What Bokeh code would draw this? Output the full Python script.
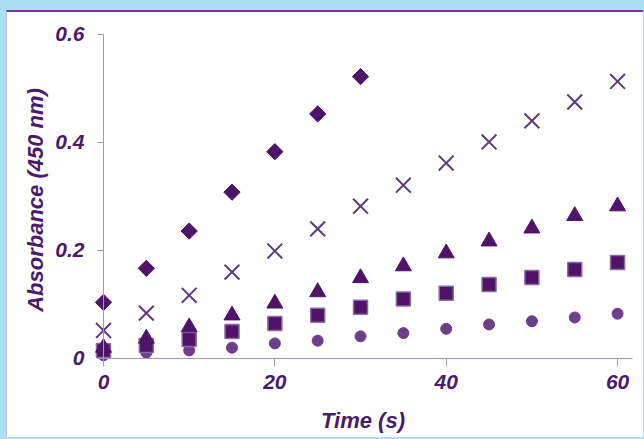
import numpy as np
from bokeh.plotting import figure
from bokeh.models import Range1d, FixedTicker, LinearAxis
from bokeh.layouts import column
from bokeh.embed import file_html
from bokeh.resources import INLINE

# ---- data ----
time_s = [0, 5, 10, 15, 20, 25, 30, 35, 40, 45, 50, 55, 60]
diamond_t = [0, 5, 10, 15, 20, 25, 30]
diamond_y = [0.104, 0.167, 0.236, 0.308, 0.383, 0.453, 0.522]
cross_y = [0.052, 0.084, 0.117, 0.160, 0.199, 0.240, 0.282, 0.321, 0.362, 0.401, 0.440, 0.475, 0.513]
triangle_y = [0.020, 0.037, 0.058, 0.080, 0.102, 0.123, 0.149, 0.171, 0.195, 0.217, 0.241, 0.264, 0.282]
square_y = [0.015, 0.024, 0.035, 0.050, 0.065, 0.080, 0.095, 0.110, 0.121, 0.137, 0.150, 0.165, 0.178]
circle_y = [0.006, 0.011, 0.015, 0.020, 0.028, 0.033, 0.041, 0.047, 0.055, 0.063, 0.069, 0.076, 0.083]
x_ticks = [0, 20, 40, 60]
y_ticks = [0, 0.2, 0.4, 0.6]
y_tick_labels = {0: "0", 0.2: "0.2", 0.4: "0.4", 0.6: "0.6"}
x_title = "Time (s)"
y_title = "Absorbance (450 nm)"

DARK = "#4f1468"
LIGHT = "#6c3f8b"
XCOL = "#5c3a80"
TEXT = "#4b1a6c"
AXIS = "#a09aa8"

p = figure(width=637, height=427, output_backend="svg", toolbar_location=None,
           x_range=Range1d(-1.984, 62.56), y_range=Range1d(-0.01667, 0.6037),
           min_border_left=79, min_border_right=5, min_border_top=20, min_border_bottom=72)
p.margin = (10, 0, 0, 6)
p.styles = {"border-top": "2px solid #7a3498", "border-left": "1px solid #c9bde6",
            "background-color": "white"}
p.background_fill_color = "white"
p.border_fill_color = "white"
p.outline_line_color = None
p.grid.visible = False

p.scatter(time_s, circle_y, marker="circle", size=11, fill_color=LIGHT, line_color=LIGHT)
p.scatter(time_s, square_y, marker="square", size=14, fill_color=DARK, line_color="#8a6aa3", line_width=1.5)
p.scatter(time_s, triangle_y, marker="triangle", size=16, fill_color=DARK, line_color=DARK)
p.scatter(time_s, cross_y, marker="x", size=21, line_color=XCOL, line_width=2)
p.scatter(diamond_t, diamond_y, marker="square", angle=np.pi / 4, size=11.5, fill_color=DARK, line_color=DARK)

# label-carrying axes at the frame edges (no line, no ticks)
for ax in (p.xaxis, p.yaxis):
    ax.axis_line_color = None
    ax.major_tick_line_color = None
    ax.minor_tick_line_color = None
    ax.major_tick_in = 0
    ax.major_tick_out = 0
    ax.major_label_text_font = "Liberation Sans"
    ax.major_label_text_font_style = "bold italic"
    ax.major_label_text_font_size = "21px"
    ax.major_label_text_color = TEXT
    ax.axis_label_text_font = "Liberation Sans"
    ax.axis_label_text_font_style = "bold italic"
    ax.axis_label_text_font_size = "22px"
    ax.axis_label_text_color = TEXT

p.xaxis.ticker = FixedTicker(ticks=x_ticks)
p.yaxis.ticker = FixedTicker(ticks=y_ticks)
p.yaxis.major_label_overrides = y_tick_labels
p.xaxis.major_label_standoff = 7
p.yaxis.major_label_standoff = 2
p.xaxis.axis_label = x_title
p.yaxis.axis_label = y_title
p.xaxis.axis_label_standoff = 16
p.yaxis.axis_label_standoff = 4

# line-and-tick axes crossing at the origin
y_line = LinearAxis(fixed_location=0, bounds=(0, 0.6), ticker=FixedTicker(ticks=y_ticks),
                    axis_line_color=AXIS, major_tick_line_color=AXIS, minor_tick_line_color=None,
                    major_tick_in=6, major_tick_out=0, major_label_standoff=0,
                    major_label_overrides={t: "" for t in y_ticks})
x_line = LinearAxis(fixed_location=0, bounds=(0, 61.7), ticker=FixedTicker(ticks=x_ticks),
                    axis_line_color=AXIS, major_tick_line_color=AXIS, minor_tick_line_color=None,
                    major_tick_in=8, major_tick_out=0, major_label_standoff=0,
                    major_label_overrides={t: "" for t in x_ticks})
p.add_layout(y_line, "right")
p.add_layout(x_line, "above")

layout = column(p, width=644, height=439, styles={"background-color": "#a9dff1"})

open("out.html", "w").write(file_html(layout, INLINE))
